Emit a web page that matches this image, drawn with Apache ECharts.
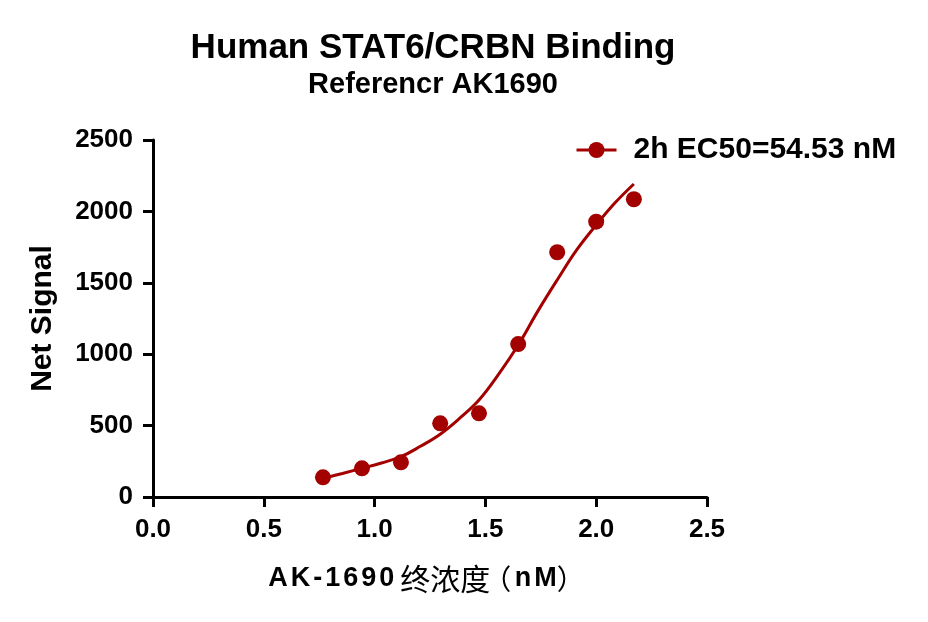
<!DOCTYPE html>
<html>
<head>
<meta charset="utf-8">
<script src="https://cdn.jsdelivr.net/npm/echarts@6/dist/echarts.min.js"></script>
<style>
  html, body { margin: 0; padding: 0; background: #fff; }
  #chart { width: 928px; height: 622px; }
</style>
</head>
<body>
<div id="chart"></div>
<script>
// log10 concentration of each measured point
var doseLog = [0.767, 0.943, 1.119, 1.296, 1.471, 1.648, 1.824, 2.000, 2.170];
var netSignal = [138, 201, 243, 516, 586, 1071, 1714, 1928, 2085];

// fitted curve
var fitX = [0.767, 0.855, 0.943, 1.031, 1.119, 1.207, 1.296, 1.383, 1.471, 1.56, 1.648, 1.736, 1.824, 1.912, 2.000, 2.085, 2.170];
var fitY = [130, 165, 201, 238, 282, 355, 440, 550, 679, 860, 1064, 1300, 1520, 1730, 1905, 2060, 2192];

var xTicks = [0, 0.5, 1.0, 1.5, 2.0, 2.5];
var yTicks = [0, 500, 1000, 1500, 2000, 2500];

var seriesName = '2h EC50=54.53 nM';
var red = '#a30000';
var font = 'Liberation Sans, Arial, sans-serif';
var cjk = 'Noto Sans CJK SC, sans-serif';

// x axis title, latin letters spaced out like the original
var xName = 'AK-1690'.split('').map(function (c) { return '{a|' + c + '}'; }).join('') +
    '{c|终浓度}{l|（}{a| }{a|n}{a|M}{r|）}';

var myChart = echarts.init(document.getElementById('chart'));

myChart.setOption({
    animation: false,
    title: {
        text: 'Human STAT6/CRBN Binding',
        subtext: 'Referencr AK1690',
        left: 428,
        textAlign: 'center',
        top: 26,
        itemGap: 4,
        textStyle: { fontFamily: font, fontWeight: 'bold', fontSize: 35, color: '#000' },
        subtextStyle: { fontFamily: font, fontWeight: 'bold', fontSize: 29, color: '#000' }
    },
    legend: {
        data: [seriesName],
        left: 570,
        top: 130,
        itemWidth: 40,
        itemHeight: 20,
        lineStyle: { width: 3 },
        textStyle: { fontFamily: font, fontWeight: 'bold', fontSize: 30, color: '#000', padding: [0, 0, 0, 12] }
    },
    grid: { left: 153, right: 221, top: 140, bottom: 125 },
    xAxis: {
        type: 'value',
        min: xTicks[0],
        max: xTicks[xTicks.length - 1],
        interval: 0.5,
        name: xName,
        nameLocation: 'middle',
        nameGap: 67,
        nameTextStyle: {
            padding: [0, 14, 0, 0],
            rich: {
                a: { fontFamily: font, fontWeight: 'bold', fontSize: 27, color: '#000', padding: [0, 3, 0, 0], lineHeight: 30 },
                c: { fontFamily: cjk, fontWeight: 'normal', fontSize: 30, color: '#000', padding: [0, 0, 0, 3], lineHeight: 30 },
                l: { fontFamily: cjk, fontWeight: 'normal', fontSize: 28, color: '#000', width: 14, align: 'right', lineHeight: 30 },
                r: { fontFamily: cjk, fontWeight: 'normal', fontSize: 28, color: '#000', width: 14, align: 'left', padding: [0, 0, 0, 4], lineHeight: 30 }
            }
        },
        splitLine: { show: false },
        axisLine: { lineStyle: { color: '#000', width: 3 } },
        axisTick: { length: 10, lineStyle: { color: '#000', width: 3 } },
        axisLabel: {
            margin: 20,
            fontFamily: font, fontWeight: 'bold', fontSize: 26, color: '#000',
            formatter: function (v) { return v.toFixed(1); }
        }
    },
    yAxis: {
        type: 'value',
        min: yTicks[0],
        max: yTicks[yTicks.length - 1],
        interval: 500,
        name: 'Net Signal',
        nameLocation: 'middle',
        nameGap: 95,
        nameTextStyle: { fontFamily: font, fontWeight: 'bold', fontSize: 30, color: '#000' },
        splitLine: { show: false },
        axisLine: { show: true, lineStyle: { color: '#000', width: 3 } },
        axisTick: { show: true, length: 10, lineStyle: { color: '#000', width: 3 } },
        axisLabel: {
            margin: 20, fontFamily: font, fontWeight: 'bold', fontSize: 26, color: '#000',
            formatter: function (v) { return String(v); }
        }
    },
    series: [
        {
            name: seriesName,
            type: 'line',
            smooth: 0.4,
            symbol: 'circle',
            symbolSize: 16,
            showSymbol: false,
            itemStyle: { color: red },
            lineStyle: { color: red, width: 3 },
            data: fitX.map(function (x, i) { return [x, fitY[i]]; }),
            z: 2
        },
        {
            name: 'points',
            type: 'scatter',
            symbol: 'circle',
            symbolSize: 16,
            itemStyle: { color: red, opacity: 1 },
            data: doseLog.map(function (x, i) { return [x, netSignal[i]]; }),
            z: 3
        }
    ]
});
</script>
</body>
</html>
